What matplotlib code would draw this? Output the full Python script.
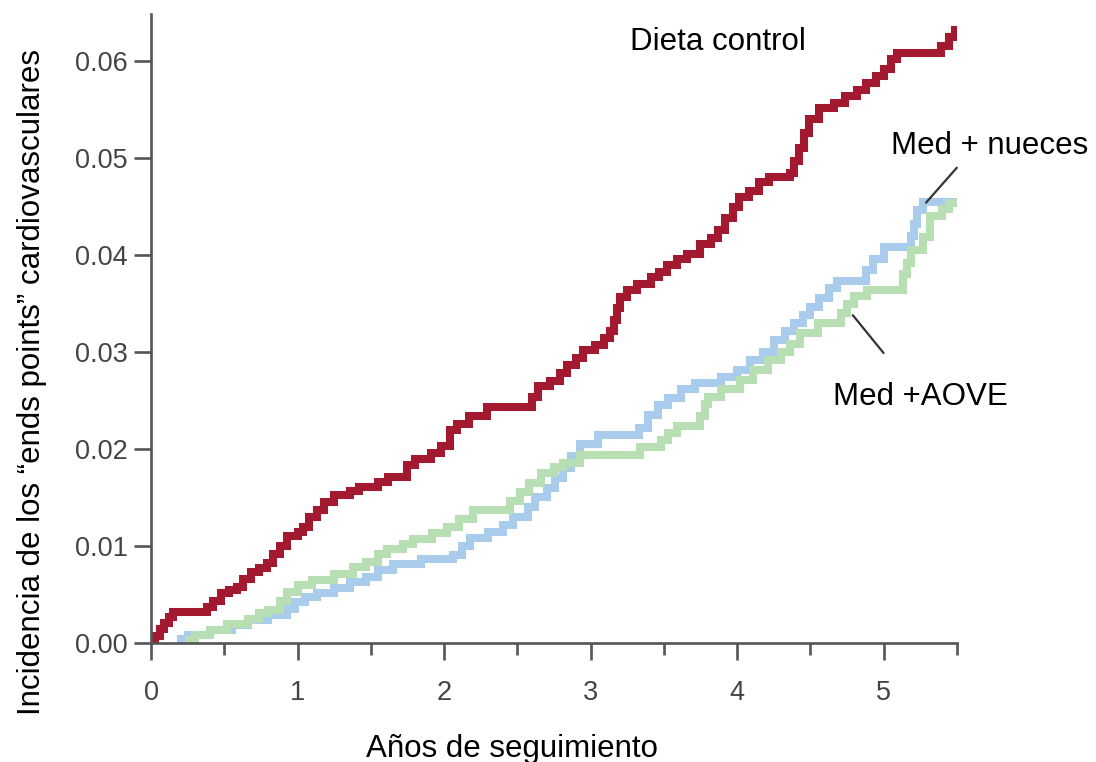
import matplotlib
matplotlib.use("Agg")
import matplotlib.pyplot as plt
from matplotlib.ticker import MultipleLocator

plt.rcParams['font.family'] = ['Liberation Sans', 'DejaVu Sans']

# Dieta control (red)
control_t = [0.00, 0.03, 0.06, 0.09, 0.12, 0.15, 0.38, 0.42, 0.48, 0.53, 0.59, 0.63, 0.68, 0.74,
             0.79, 0.83, 0.88, 0.93, 1.00, 1.04, 1.08, 1.13, 1.18, 1.25, 1.36, 1.42, 1.55, 1.62,
             1.75, 1.80, 1.91, 1.98, 2.04, 2.09, 2.17, 2.29, 2.60, 2.64, 2.72, 2.79, 2.84, 2.90,
             2.95, 3.03, 3.09, 3.13, 3.16, 3.18, 3.20, 3.25, 3.32, 3.41, 3.47, 3.52, 3.59, 3.66,
             3.75, 3.82, 3.87, 3.92, 3.97, 4.01, 4.08, 4.15, 4.22, 4.36, 4.39, 4.42, 4.46, 4.49,
             4.56, 4.66, 4.74, 4.82, 4.88, 4.95, 5.00, 5.05, 5.09, 5.39, 5.45, 5.49, 5.50]
control_y = [0.0000, 0.0007, 0.0014, 0.0021, 0.0027, 0.0032, 0.0037, 0.0043, 0.0052, 0.0055, 0.0058,
             0.0066, 0.0073, 0.0077, 0.0082, 0.0092, 0.0100, 0.0110, 0.0114, 0.0120, 0.0130, 0.0137,
             0.0145, 0.0153, 0.0157, 0.0161, 0.0166, 0.0171, 0.0183, 0.0190, 0.0196, 0.0203, 0.0220,
             0.0226, 0.0234, 0.0243, 0.0254, 0.0265, 0.0270, 0.0278, 0.0287, 0.0294, 0.0302, 0.0307,
             0.0314, 0.0322, 0.0333, 0.0345, 0.0357, 0.0364, 0.0370, 0.0377, 0.0383, 0.0390, 0.0396,
             0.0401, 0.0411, 0.0418, 0.0426, 0.0438, 0.0450, 0.0460, 0.0466, 0.0475, 0.0480, 0.0485,
             0.0497, 0.0510, 0.0526, 0.0540, 0.0552, 0.0557, 0.0564, 0.0570, 0.0577, 0.0585, 0.0592,
             0.0602, 0.0608, 0.0616, 0.0625, 0.0632, 0.0632]

# Med + nueces (blue)
nueces_t = [0.18, 0.25, 0.40, 0.55, 0.66, 0.80, 0.93, 0.98, 1.05, 1.13, 1.25, 1.36, 1.47, 1.55,
            1.65, 1.84, 2.06, 2.12, 2.18, 2.30, 2.40, 2.47, 2.57, 2.62, 2.70, 2.76, 2.81, 2.87,
            2.93, 3.05, 3.33, 3.39, 3.46, 3.53, 3.62, 3.71, 3.89, 4.00, 4.09, 4.18, 4.25, 4.33,
            4.39, 4.45, 4.50, 4.56, 4.63, 4.68, 4.88, 4.93, 5.00, 5.19, 5.21, 5.23, 5.27, 5.50]
nueces_y = [0.0004, 0.0008, 0.0013, 0.0019, 0.0024, 0.0029, 0.0035, 0.0042, 0.0047, 0.0052, 0.0057,
            0.0063, 0.0068, 0.0075, 0.0081, 0.0087, 0.0091, 0.0100, 0.0108, 0.0114, 0.0122, 0.0130,
            0.0140, 0.0150, 0.0160, 0.0170, 0.0180, 0.0193, 0.0205, 0.0214, 0.0222, 0.0235, 0.0245,
            0.0253, 0.0262, 0.0268, 0.0274, 0.0281, 0.0292, 0.0300, 0.0312, 0.0322, 0.0330, 0.0338,
            0.0346, 0.0356, 0.0366, 0.0373, 0.0385, 0.0396, 0.0408, 0.0420, 0.0432, 0.0446, 0.0455,
            0.0455]

# Med + AOVE (green)
aove_t = [0.23, 0.30, 0.40, 0.52, 0.66, 0.74, 0.80, 0.88, 0.93, 1.00, 1.10, 1.25, 1.38, 1.47,
          1.55, 1.61, 1.72, 1.79, 1.92, 2.02, 2.10, 2.20, 2.45, 2.52, 2.58, 2.66, 2.75, 2.81,
          2.93, 3.34, 3.48, 3.53, 3.59, 3.75, 3.78, 3.80, 3.89, 4.02, 4.11, 4.21, 4.30, 4.36,
          4.43, 4.55, 4.71, 4.75, 4.80, 4.89, 5.13, 5.16, 5.19, 5.27, 5.32, 5.40, 5.45, 5.50]
aove_y = [0.0003, 0.0008, 0.0013, 0.0020, 0.0025, 0.0031, 0.0034, 0.0043, 0.0053, 0.0060, 0.0065,
          0.0071, 0.0078, 0.0084, 0.0092, 0.0097, 0.0102, 0.0107, 0.0113, 0.0120, 0.0128, 0.0137,
          0.0146, 0.0156, 0.0165, 0.0175, 0.0181, 0.0186, 0.0194, 0.0202, 0.0209, 0.0216, 0.0224,
          0.0234, 0.0246, 0.0254, 0.0262, 0.0271, 0.0281, 0.0292, 0.0300, 0.0308, 0.0320, 0.0330,
          0.0340, 0.0350, 0.0358, 0.0364, 0.0380, 0.0392, 0.0405, 0.0419, 0.0440, 0.0447, 0.0454,
          0.0454]

fig = plt.figure(figsize=(10.96, 7.62), dpi=100)
ax = fig.add_axes([0.1378, 0.1562, 0.8730 - 0.1378, 0.9816 - 0.1562])

lw = 5.8
ax.plot(nueces_t, nueces_y, drawstyle="steps-post", color="#a9cbec", lw=lw,
        solid_joinstyle="miter", solid_capstyle="butt")
ax.plot(aove_t, aove_y, drawstyle="steps-post", color="#b8deb3", lw=lw,
        solid_joinstyle="miter", solid_capstyle="butt")
ax.plot(control_t, control_y, drawstyle="steps-post", color="#a3192f", lw=lw,
        solid_joinstyle="miter", solid_capstyle="butt")

ax.set_xlim(0, 5.5)
ax.set_ylim(0, 0.06485)
ax.xaxis.set_major_locator(MultipleLocator(1))
ax.xaxis.set_minor_locator(MultipleLocator(0.5))
ax.set_yticks([0.00, 0.01, 0.02, 0.03, 0.04, 0.05, 0.06])
ax.set_yticklabels(["0.00", "0.01", "0.02", "0.03", "0.04", "0.05", "0.06"])

for side in ["top", "right"]:
    ax.spines[side].set_visible(False)
for side in ["left", "bottom"]:
    ax.spines[side].set_color("#555555")
    ax.spines[side].set_linewidth(1.9)

ax.tick_params(axis="both", which="major", direction="out", length=12, width=1.9,
               color="#555555", labelcolor="#444444", labelsize=19.5)
ax.tick_params(axis="x", which="minor", direction="out", length=8.5, width=1.9, color="#555555")
ax.tick_params(axis="x", which="major", pad=15)
ax.tick_params(axis="y", which="major", pad=5)

ax.text(3.272, 0.06113, "Dieta control", fontsize=22.5, ha="left", va="baseline")
ax.text(5.048, 0.05041, "Med + nueces", fontsize=22.5, ha="left", va="baseline", clip_on=False)
ax.text(4.658, 0.02454, "Med +AOVE", fontsize=22.5, ha="left", va="baseline", clip_on=False)

ax.annotate("", xy=(5.29, 0.0454), xytext=(5.50, 0.0490),
            arrowprops=dict(arrowstyle="-", color="#333333", lw=1.6, shrinkA=0, shrinkB=0),
            annotation_clip=False)
ax.annotate("", xy=(4.79, 0.0338), xytext=(5.00, 0.0299),
            arrowprops=dict(arrowstyle="-", color="#333333", lw=1.6, shrinkA=0, shrinkB=0),
            annotation_clip=False)

fig.text(32 / 1096, 0.4987, "Incidencia de los \u201cends points\u201d cardiovasculares",
         fontsize=22.5, rotation=90, ha="center", va="center")
fig.text(512 / 1096, 5 / 762, "Años de seguimiento", fontsize=22.5, ha="center", va="baseline")

fig.savefig("out.png", dpi=100)
